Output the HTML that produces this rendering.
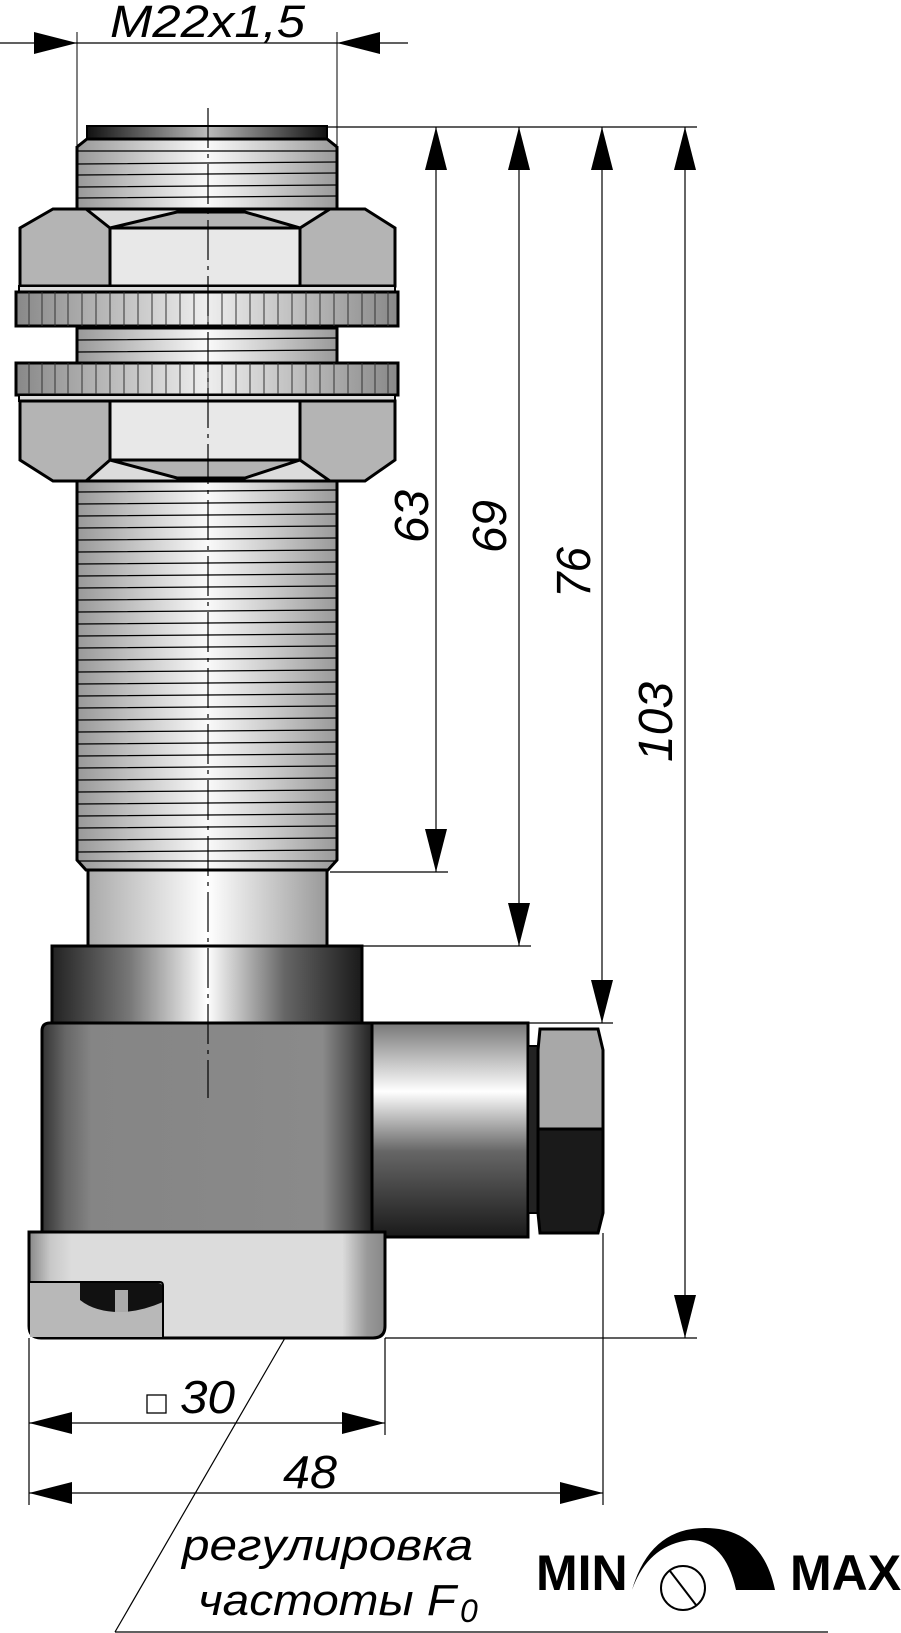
<!DOCTYPE html>
<html><head><meta charset="utf-8"><style>
html,body{margin:0;padding:0;background:#fff}
svg{display:block}
text{font-family:"Liberation Sans",sans-serif}
</style></head><body>
<svg width="901" height="1633" viewBox="0 0 901 1633" xmlns="http://www.w3.org/2000/svg">
<defs>
<linearGradient id="thr" x1="0" x2="1" y1="0" y2="0"><stop offset="0" stop-color="#999"/><stop offset="0.5" stop-color="#fafafa"/><stop offset="1" stop-color="#9a9a9a"/></linearGradient>
<linearGradient id="cyl" x1="0" x2="1"><stop offset="0" stop-color="#aaa"/><stop offset="0.5" stop-color="#fff"/><stop offset="1" stop-color="#999"/></linearGradient>
<linearGradient id="cap" x1="0" x2="1"><stop offset="0" stop-color="#111"/><stop offset="0.5" stop-color="#bbb"/><stop offset="1" stop-color="#111"/></linearGradient>
<linearGradient id="col" x1="0" x2="1"><stop offset="0" stop-color="#222"/><stop offset="0.25" stop-color="#777"/><stop offset="0.5" stop-color="#fff"/><stop offset="0.75" stop-color="#666"/><stop offset="1" stop-color="#1a1a1a"/></linearGradient>
<linearGradient id="hou" x1="0" x2="1"><stop offset="0" stop-color="#333"/><stop offset="0.07" stop-color="#666"/><stop offset="0.15" stop-color="#858585"/><stop offset="0.85" stop-color="#8a8a8a"/><stop offset="0.93" stop-color="#555"/><stop offset="1" stop-color="#222"/></linearGradient>
<linearGradient id="con" x1="0" x2="0" y1="0" y2="1"><stop offset="0" stop-color="#777"/><stop offset="0.12" stop-color="#aaa"/><stop offset="0.32" stop-color="#fff"/><stop offset="0.6" stop-color="#666"/><stop offset="1" stop-color="#1a1a1a"/></linearGradient>
<linearGradient id="bas" x1="0" x2="1"><stop offset="0" stop-color="#888"/><stop offset="0.06" stop-color="#c8c8c8"/><stop offset="0.12" stop-color="#dcdcdc"/><stop offset="0.88" stop-color="#dcdcdc"/><stop offset="0.95" stop-color="#999"/><stop offset="1" stop-color="#888"/></linearGradient>
<linearGradient id="knr" x1="0" x2="1"><stop offset="0" stop-color="#888"/><stop offset="0.5" stop-color="#eee"/><stop offset="1" stop-color="#888"/></linearGradient>
</defs>

<line x1="0" y1="43" x2="408" y2="43" stroke="#000" stroke-width="1.2"/>
<line x1="77" y1="32" x2="77" y2="145" stroke="#000" stroke-width="1"/>
<line x1="337" y1="32" x2="337" y2="145" stroke="#000" stroke-width="1"/>
<polygon points="77,43 34,32 34,54" fill="#000"/>
<polygon points="337,43 380,32 380,54" fill="#000"/>
<text x="110" y="37" font-size="45" font-style="italic" textLength="195" lengthAdjust="spacingAndGlyphs">M22x1,5</text>

<rect x="87" y="126" width="240" height="13" fill="url(#cap)" stroke="#000" stroke-width="2"/>
<path d="M87,139 H327 L337,147 V209 H77 V147 Z" fill="url(#thr)" stroke="#000" stroke-width="3"/>
<path d="M78,151 H336 M78,164 L336,162 M78,175 L336,173 M78,187 L336,185 M78,198 L336,196" stroke="#000" stroke-width="1.2"/>

<path d="M53,209 H365 L395,228 V286 H20 V228 Z" fill="#b4b4b4" stroke="#000" stroke-width="3"/>
<path d="M86,209 L110,228 L177,212 L245,212 L300,228 L330,209 Z" fill="#dcdcdc" stroke="#000" stroke-width="3"/>
<rect x="110" y="228" width="190" height="58" fill="#e8e8e8" stroke="#000" stroke-width="3"/>

<rect x="19" y="286" width="376" height="6" fill="#ddd" stroke="#000" stroke-width="2"/>
<rect x="16" y="292" width="382" height="34" fill="url(#knr)" stroke="#000" stroke-width="3"/>
<path d="M29,292V326M42,292V326M55,292V326M68,292V326M82,292V326M96,292V326M110,292V326M124,292V326M138,292V326M152,292V326M166,292V326M180,292V326M194,292V326M208,292V326M222,292V326M236,292V326M250,292V326M264,292V326M278,292V326M292,292V326M306,292V326M320,292V326M334,292V326M348,292V326M362,292V326M375,292V326M388,292V326" stroke="#333" stroke-width="1"/>

<rect x="77" y="328" width="260" height="35" fill="url(#thr)" stroke="#000" stroke-width="3"/>
<path d="M78,340 L336,338 M78,352 L336,350" stroke="#000" stroke-width="1.2"/>

<rect x="16" y="363" width="382" height="32" fill="url(#knr)" stroke="#000" stroke-width="3"/>
<path d="M29,363V395M42,363V395M55,363V395M68,363V395M82,363V395M96,363V395M110,363V395M124,363V395M138,363V395M152,363V395M166,363V395M180,363V395M194,363V395M208,363V395M222,363V395M236,363V395M250,363V395M264,363V395M278,363V395M292,363V395M306,363V395M320,363V395M334,363V395M348,363V395M362,363V395M375,363V395M388,363V395" stroke="#333" stroke-width="1"/>
<rect x="19" y="395" width="376" height="6" fill="#ddd" stroke="#000" stroke-width="2"/>

<path d="M20,401 H395 V460 L365,481 H53 L20,460 Z" fill="#b4b4b4" stroke="#000" stroke-width="3"/>
<path d="M86,481 L110,460 L177,478 L245,478 L300,460 L330,481 Z" fill="#dcdcdc" stroke="#000" stroke-width="3"/>
<rect x="110" y="401" width="190" height="59" fill="#e8e8e8" stroke="#000" stroke-width="3"/>

<path d="M77,481 H337 V860 L328,870 H86 L77,860 Z" fill="url(#thr)" stroke="#000" stroke-width="3"/>
<path d="M78,492L336,490M78,504L336,502M78,516L336,514M78,528L336,526M78,540L336,538M78,552L336,550M78,564L336,562M78,576L336,574M78,588L336,586M78,600L336,598M78,612L336,610M78,624L336,622M78,636L336,634M78,648L336,646M78,660L336,658M78,672L336,670M78,684L336,682M78,696L336,694M78,708L336,706M78,720L336,718M78,732L336,730M78,744L336,742M78,756L336,754M78,768L336,766M78,780L336,778M78,792L336,790M78,804L336,802M78,816L336,814M78,828L336,826M78,840L336,838M78,852L336,850M78,861H336" stroke="#000" stroke-width="1.2"/>

<rect x="88" y="870" width="239" height="76" fill="url(#cyl)" stroke="#000" stroke-width="3"/>
<rect x="52" y="946" width="310" height="77" fill="url(#col)" stroke="#000" stroke-width="3"/>
<path d="M50,1023 H372 V1232 H42 V1031 Q42,1023 50,1023 Z" fill="url(#hou)" stroke="#000" stroke-width="3"/>
<rect x="372" y="1023" width="156" height="214" fill="url(#con)" stroke="#000" stroke-width="3"/>
<rect x="528" y="1046" width="10" height="167" fill="#222" stroke="#000" stroke-width="2"/>
<path d="M540,1029 H598 L603,1050 V1129 H538 L538,1050 Z" fill="#a8a8a8" stroke="#000" stroke-width="3"/>
<path d="M538,1129 H603 V1213 L598,1233 H540 L538,1213 Z" fill="#1a1a1a" stroke="#000" stroke-width="3"/>
<path d="M29,1232 H385 V1326 Q385,1338 373,1338 H41 Q29,1338 29,1326 Z" fill="url(#bas)" stroke="#000" stroke-width="3"/>
<rect x="30" y="1283" width="132" height="54" fill="#b8b8b8"/>
<path d="M80,1283 H158 Q163,1283 163,1290 V1302 Q140,1312 120,1312 Q95,1312 80,1300 Z" fill="#111"/>
<rect x="115" y="1290" width="13" height="22" fill="#aaa"/>
<path d="M29,1282 H160 Q163,1282 163,1286 V1337" fill="none" stroke="#000" stroke-width="2"/>

<line x1="208" y1="108" x2="208" y2="1098" stroke="#000" stroke-width="1.2" stroke-dasharray="40,6,4,6"/>

<g stroke="#000" stroke-width="1.2">
<line x1="327" y1="127" x2="697" y2="127"/>
<line x1="436" y1="127" x2="436" y2="872"/>
<line x1="519" y1="127" x2="519" y2="946"/>
<line x1="602" y1="127" x2="602" y2="1023"/>
<line x1="685" y1="127" x2="685" y2="1338"/>
<line x1="330" y1="872" x2="448" y2="872"/>
<line x1="362" y1="946" x2="531" y2="946"/>
<line x1="528" y1="1023" x2="613" y2="1023"/>
<line x1="385" y1="1338" x2="697" y2="1338"/>
</g>
<g fill="#000">
<polygon points="436,127 425,170 447,170"/><polygon points="436,872 425,829 447,829"/>
<polygon points="519,127 508,170 530,170"/><polygon points="519,946 508,903 530,903"/>
<polygon points="602,127 591,170 613,170"/><polygon points="602,1023 591,980 613,980"/>
<polygon points="685,127 674,170 696,170"/><polygon points="685,1338 674,1295 696,1295"/>
</g>
<g font-size="48" font-style="italic">
<text transform="translate(428,543) rotate(-90)" textLength="53" lengthAdjust="spacingAndGlyphs">63</text>
<text transform="translate(506,553) rotate(-90)" textLength="53" lengthAdjust="spacingAndGlyphs">69</text>
<text transform="translate(590,598) rotate(-90)" textLength="51" lengthAdjust="spacingAndGlyphs">76</text>
<text transform="translate(672,762) rotate(-90)" textLength="80" lengthAdjust="spacingAndGlyphs">103</text>
</g>

<g stroke="#000" stroke-width="1.2">
<line x1="29" y1="1338" x2="29" y2="1505"/>
<line x1="385" y1="1338" x2="385" y2="1435"/>
<line x1="603" y1="1233" x2="603" y2="1505"/>
<line x1="29" y1="1423" x2="385" y2="1423"/>
<line x1="29" y1="1493" x2="603" y2="1493"/>
<line x1="285" y1="1338" x2="115" y2="1632"/>
<line x1="115" y1="1632" x2="828" y2="1632"/>
</g>
<g fill="#000">
<polygon points="29,1423 72,1412 72,1434"/><polygon points="385,1423 342,1412 342,1434"/>
<polygon points="29,1493 72,1482 72,1504"/><polygon points="603,1493 560,1482 560,1504"/>
</g>
<rect x="147" y="1395" width="19" height="18" fill="none" stroke="#000" stroke-width="1.3"/>
<text x="180" y="1413" font-size="46" font-style="italic" textLength="55" lengthAdjust="spacingAndGlyphs">30</text>
<text x="283" y="1488" font-size="46" font-style="italic" textLength="54" lengthAdjust="spacingAndGlyphs">48</text>
<text x="182" y="1560" font-size="44" font-style="italic" textLength="291" lengthAdjust="spacingAndGlyphs">регулировка</text>
<text x="198" y="1615" font-size="44" font-style="italic" textLength="258" lengthAdjust="spacingAndGlyphs">частоты F</text>
<text x="460" y="1622" font-size="32" font-style="italic">0</text>

<text x="536" y="1590" font-size="50" font-weight="bold">MIN</text>
<text x="790" y="1590" font-size="50" font-weight="bold">MAX</text>
<path d="M632,1590 Q650,1528 705,1528 Q762,1528 775,1590 H736 Q725,1540 690,1540 Q648,1545 632,1590 Z" fill="#000"/>
<circle cx="683" cy="1588" r="22" fill="#fff" stroke="#000" stroke-width="2"/>
<line x1="670" y1="1571" x2="696" y2="1605" stroke="#000" stroke-width="2"/>
</svg>
</body></html>
